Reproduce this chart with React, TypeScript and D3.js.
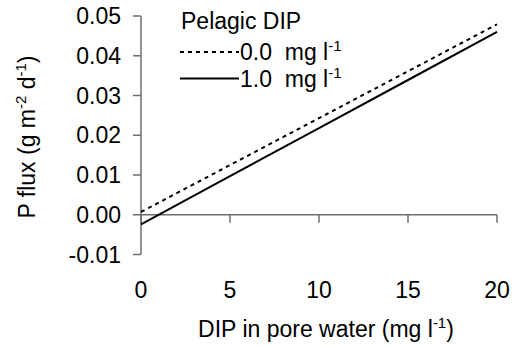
import React from "react";
import * as d3 from "d3";

const dipPore = [0, 5, 10, 15, 20];
const flux00 = [0.0007, 0.0125, 0.0243, 0.0361, 0.0479];
const flux10 = [-0.0024, 0.0097, 0.0218, 0.0339, 0.046];
const xTicks = [0, 5, 10, 15, 20];
const yTicks = [0.05, 0.04, 0.03, 0.02, 0.01, 0.0, -0.01];
const legendTitle = "Pelagic DIP";
const legendLabels = ["0.0", "1.0"];

const W = 520;
const H = 347;
const FONT = "'Liberation Sans', Arial, Helvetica, sans-serif";
const FS = 23;

export default function App() {
  const x = d3.scaleLinear().domain([0, 20]).range([141, 497]);
  const y = d3.scaleLinear().domain([-0.01, 0.05]).range([254.5, 16]);
  const line = d3
    .line<[number, number]>()
    .x((d) => x(d[0]))
    .y((d) => y(d[1]));
  const d00 = line(dipPore.map((v, i) => [v, flux00[i]]));
  const d10 = line(dipPore.map((v, i) => [v, flux10[i]]));
  const axisColor = "#6e6e6e";

  return (
    <svg
      width={W}
      height={H}
      style={{ position: "absolute", left: 0, top: 0 }}
      fontFamily={FONT}
      fontSize={FS}
    >
      {/* y axis */}
      <line x1={x(0)} x2={x(0)} y1={y(0.05)} y2={y(-0.01)} stroke={axisColor} strokeWidth={1.5} />
      {yTicks.map((t) => (
        <g key={t}>
          <line x1={x(0) - 8} x2={x(0)} y1={y(t)} y2={y(t)} stroke={axisColor} strokeWidth={1.5} />
          <text x={121} y={y(t) + 8} textAnchor="end" fill="#000">
            {d3.format(".2f")(t).replace("−", "-")}
          </text>
        </g>
      ))}
      {/* x axis at 0 */}
      <line x1={x(0)} x2={x(20)} y1={y(0)} y2={y(0)} stroke={axisColor} strokeWidth={1.5} />
      {xTicks.map((t) => (
        <g key={t}>
          <line x1={x(t)} x2={x(t)} y1={y(0)} y2={y(0) + 8} stroke={axisColor} strokeWidth={1.5} />
          <text x={x(t)} y={298} textAnchor="middle" fill="#000">
            {t}
          </text>
        </g>
      ))}
      {/* data lines */}
      <path d={d00 || ""} fill="none" stroke="#000" strokeWidth={2} strokeDasharray="4,4" />
      <path d={d10 || ""} fill="none" stroke="#000" strokeWidth={2} />

      {/* axis titles */}
      <text x={(x(0) + x(20)) / 2 + 7} y={337} textAnchor="middle" fill="#000">
        DIP in pore water (mg l
        <tspan dy={-9} fontSize={15}>-1</tspan>
        <tspan dy={9}>)</tspan>
      </text>
      <text
        transform={`translate(35, 137) rotate(-90)`}
        textAnchor="middle"
        fill="#000"
      >
        P flux (g m
        <tspan dy={-9} fontSize={15}>-2</tspan>
        <tspan dy={9}> d</tspan>
        <tspan dy={-9} fontSize={15}>-1</tspan>
        <tspan dy={9}>)</tspan>
      </text>

      {/* legend */}
      <text x={181} y={29} fill="#000">{legendTitle}</text>
      {legendLabels.map((lab, i) => {
        const ly = 52 + i * 26.5;
        return (
          <g key={lab}>
            <line
              x1={180}
              x2={239}
              y1={ly}
              y2={ly}
              stroke="#000"
              strokeWidth={2}
              strokeDasharray={i === 0 ? "4,4" : undefined}
            />
            <text x={240} y={ly + 8} fill="#000" xmlSpace="preserve">
              {lab + "  mg l"}
              <tspan dy={-9} fontSize={15}>-1</tspan>
            </text>
          </g>
        );
      })}
    </svg>
  );
}
